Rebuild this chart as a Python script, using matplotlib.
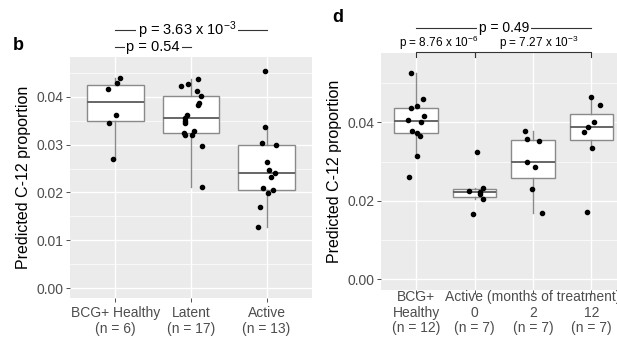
import numpy as np
import matplotlib
matplotlib.use("Agg")
import matplotlib.pyplot as plt
from matplotlib.ticker import MultipleLocator

plt.rcParams['font.family'] = ['Liberation Sans', 'DejaVu Sans']
plt.rcParams['mathtext.fontset'] = 'custom'
plt.rcParams['mathtext.rm'] = 'Liberation Sans'
plt.rcParams['mathtext.it'] = 'Liberation Sans:italic'
plt.rcParams['mathtext.bf'] = 'Liberation Sans:bold'

# panel b
b_labels = ["BCG+ Healthy\n(n = 6)", "Latent\n(n = 17)", "Active\n(n = 13)"]
b_bcg = [0.04384, 0.04280, 0.04161, 0.03624, 0.03457, 0.02699]
b_latent = [0.04230, 0.04271, 0.04376, 0.04125, 0.04021, 0.03862, 0.03820, 0.03618,
            0.03549, 0.03493, 0.03445, 0.03248, 0.03200, 0.03284, 0.03194, 0.02971, 0.02109]
b_active = [0.04543, 0.03361, 0.03033, 0.02998, 0.02637, 0.02476, 0.02407, 0.02317,
            0.02088, 0.02052, 0.01990, 0.01697, 0.01280]
# jitter offsets
b_bcg_jit = [0.057, 0.022, -0.101, 0.009, -0.079, -0.036]
b_latent_jit = [-0.136, -0.036, 0.096, 0.079, 0.132, 0.101, 0.092, -0.057, -0.075,
                -0.075, -0.079, -0.092, -0.083, 0.036, 0.013, 0.149, 0.141]
b_active_jit = [-0.026, -0.022, -0.062, 0.128, 0.004, 0.039, 0.114, 0.053, -0.049,
                0.083, 0.017, -0.088, -0.118]

# panel d
d_labels = ["BCG+\nHealthy\n(n = 12)", "\n0\n(n = 7)",
            "Active (months of treatment)\n2\n(n = 7)", "\n12\n(n = 7)"]
d_bcg = [0.05264, 0.04594, 0.04423, 0.04357, 0.04161, 0.04066, 0.04008, 0.03786,
         0.03735, 0.03659, 0.03149, 0.02614]
d_m0 = [0.03236, 0.02250, 0.02334, 0.02217, 0.02173, 0.02038, 0.01656]
d_m2 = [0.03771, 0.03567, 0.03531, 0.02981, 0.02854, 0.02301, 0.01682]
d_m12 = [0.04652, 0.04433, 0.04000, 0.03873, 0.03753, 0.03345, 0.01722]
d_bcg_jit = [-0.091, 0.115, 0.022, -0.080, 0.142, -0.132, 0.085, -0.063, 0.022, 0.063, 0.017, -0.120]
d_m0_jit = [0.038, -0.089, 0.140, 0.089, 0.089, 0.140, -0.031]
d_m2_jit = [-0.142, -0.103, 0.097, -0.097, 0.039, -0.022, 0.149]
d_m12_jit = [-0.003, 0.150, 0.048, -0.065, -0.133, 0.003, -0.082]

txt = '#4D4D4D'


def panel(ax, groups, jits, labels, ylim, major, minor, first, step):
    ax.set_facecolor('#EBEBEB')
    for s in ax.spines.values():
        s.set_visible(False)
    pos = np.arange(1, len(groups) + 1)
    ax.boxplot(groups, positions=pos, widths=0.75, patch_artist=True,
               showfliers=False, showcaps=False, whis=1.5,
               boxprops=dict(facecolor='white', edgecolor='#8A8A8A', linewidth=1.0),
               medianprops=dict(color='#666666', linewidth=1.4),
               whiskerprops=dict(color='#8A8A8A', linewidth=1.0), zorder=3)
    for p, g, j in zip(pos, groups, jits):
        ax.plot(p + np.array(j), g, 'o', color='black', ms=3.0, zorder=4)
    ax.set_xlim(0.4, len(groups) + 0.6)
    ax.set_ylim(*ylim)
    ax.set_xticks(pos)
    ax.set_xticklabels([''] * len(pos))
    # x labels, one text per line so lines line up across groups
    for p, lab in zip(pos, labels):
        for i, line in enumerate(lab.split('\n')):
            if line:
                ax.annotate(line, xy=(p, 0), xycoords=('data', 'axes fraction'),
                            xytext=(0, -(first + i * step)), textcoords='offset points',
                            ha='center', va='center', fontsize=10, color=txt,
                            annotation_clip=False)
    ax.yaxis.set_major_locator(MultipleLocator(major))
    ax.yaxis.set_minor_locator(MultipleLocator(minor))
    ax.yaxis.set_major_formatter(matplotlib.ticker.FormatStrFormatter('%.2f'))
    ax.tick_params(which='major', length=2.75, width=0.6, color='#333333',
                   labelsize=10, labelcolor=txt, pad=2)
    ax.tick_params(which='minor', length=0)
    ax.grid(which='major', color='white', linewidth=1.0)
    ax.grid(which='minor', axis='y', color='white', linewidth=0.5)
    ax.set_axisbelow(True)
    ax.set_ylabel('Predicted C-12 proportion', fontsize=11.5, color='black', labelpad=4)


fig = plt.figure(figsize=(6.17, 3.41), dpi=100)

ax1 = fig.add_axes([0.1135, 0.1261, 0.392, 0.7067])
panel(ax1, [b_bcg, b_latent, b_active], [b_bcg_jit, b_latent_jit, b_active_jit],
      b_labels, (-0.00203, 0.04829), 0.01, 0.005, 10.8, 11.5)

ax2 = fig.add_axes([0.6175, 0.1496, 0.398, 0.695])
panel(ax2, [d_bcg, d_m0, d_m2, d_m12], [d_bcg_jit, d_m0_jit, d_m2_jit, d_m12_jit],
      d_labels, (-0.00273, 0.05766), 0.02, 0.01, 5.2, 11.2)

box = dict(boxstyle='square,pad=0.12', facecolor='white', edgecolor='none')
lc = '#333333'

# panel b comparisons
ax1.plot([1, 3], [0.0539, 0.0539], color=lc, lw=0.8, clip_on=False)
ax1.text(1.95, 0.0539, 'p = 3.63 x 10$^{-3}$', ha='center', va='center',
         fontsize=10.5, bbox=box, clip_on=False)
ax1.plot([1, 2], [0.0504, 0.0504], color=lc, lw=0.8, clip_on=False)
ax1.text(1.5, 0.0504, 'p = 0.54', ha='center', va='center',
         fontsize=10.5, bbox=box, clip_on=False)

# panel d comparisons
ax2.plot([1, 4], [0.06395, 0.06395], color=lc, lw=0.8, clip_on=False)
ax2.text(2.5, 0.06395, 'p = 0.49', ha='center', va='center',
         fontsize=10, bbox=box, clip_on=False)
for a, b_ in [(1, 2), (2, 4)]:
    ax2.plot([a, a, b_, b_], [0.05664, 0.05791, 0.05791, 0.05664],
             color=lc, lw=0.8, clip_on=False, zorder=5)
ax2.text(1.39, 0.0602, 'p = 8.76 x 10$^{-6}$', ha='center', va='center',
         fontsize=8.5, clip_on=False)
ax2.text(3.09, 0.0602, 'p = 7.27 x 10$^{-3}$', ha='center', va='center',
         fontsize=8.5, clip_on=False)

fig.text(18 / 617, 1 - 45 / 341, 'b', fontsize=13, fontweight='bold', ha='center', va='center')
fig.text(338 / 617, 1 - 17 / 341, 'd', fontsize=13, fontweight='bold', ha='center', va='center')

fig.savefig('out.png', dpi=100)
